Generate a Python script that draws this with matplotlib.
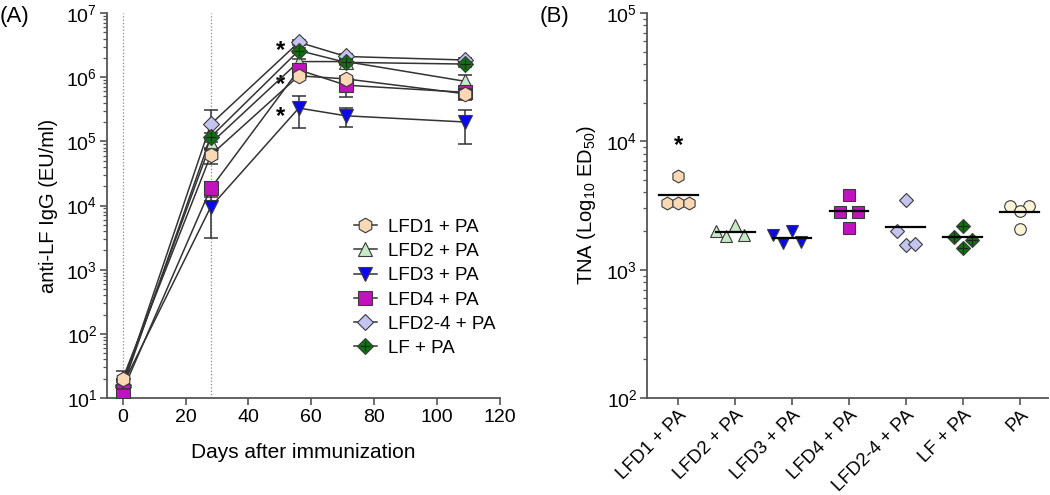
import numpy as np
import matplotlib
matplotlib.use("Agg")
import matplotlib.pyplot as plt
from matplotlib.ticker import LogLocator, NullFormatter, FixedLocator
from matplotlib.legend_handler import HandlerTuple

plt.rcParams['font.family'] = ['Liberation Sans', 'DejaVu Sans']
plt.rcParams['mathtext.fontset'] = 'custom'
plt.rcParams['mathtext.rm'] = 'Liberation Sans'
plt.rcParams['mathtext.it'] = 'Liberation Sans:italic'
plt.rcParams['mathtext.bf'] = 'Liberation Sans:bold'

# ---------------- data: panel A ----------------
days = [0, 28, 56, 71, 109]
groups = ["LFD1 + PA", "LFD2 + PA", "LFD3 + PA", "LFD4 + PA", "LFD2-4 + PA", "LF + PA"]
lfd1 = [20, 6.1e4, 1.05e6, 9.4e5, 5.5e5]
lfd1_err = [6, 1.6e4, 1.0e5, 1.0e5, 1.1e5]
lfd2 = [17, 9.3e4, 1.75e6, 1.75e6, 8.6e5]
lfd2_err = [3, 1.5e4, 1.5e5, 1.5e5, 2.3e5]
lfd3 = [16, 9.5e3, 3.3e5, 2.5e5, 2.0e5]
lfd3_err = [3, 6.4e3, 1.7e5, 8.5e4, 1.1e5]
lfd4 = [13, 1.85e4, 1.3e6, 7.5e5, 5.8e5]
lfd4_err = [3, 5.0e3, 1.5e5, 2.6e5, 8.0e4]
lfd24 = [16, 1.85e5, 3.5e6, 2.1e6, 1.85e6]
lfd24_err = [3, 1.2e5, 3.0e5, 2.0e5, 1.5e5]
lf = [15, 1.17e5, 2.6e6, 1.7e6, 1.6e6]
lf_err = [3, 2.0e4, 2.5e5, 1.5e5, 1.5e5]

# ---------------- data: panel B ----------------
categories = ["LFD1 + PA", "LFD2 + PA", "LFD3 + PA", "LFD4 + PA", "LFD2-4 + PA", "LF + PA", "PA"]
tna_lfd1 = [5370, 3300, 3300, 3300]
tna_lfd2 = [2000, 1830, 2230, 1860]
tna_lfd3 = [1860, 1610, 2000, 1640]
tna_lfd4 = [3810, 2810, 2810, 2110]
tna_lfd24 = [3480, 2000, 1560, 1580]
tna_lf = [2190, 1790, 1700, 1470]
tna_pa = [3130, 3130, 2860, 2070]

# ---------------- styles ----------------
styles = [
    dict(marker='h', color='#f9d8b4', ms=10.5),
    dict(marker='^', color='#c6eac4', ms=10.5),
    dict(marker='v', color='#0a0ae6', ms=10.5),
    dict(marker='s', color='#c212c0', ms=9.5),
    dict(marker='D', color='#c4c4f0', ms=8.5),
    dict(marker='D', color='#127012', ms=8.5),
]
pa_style = dict(marker='o', color='#fcf4d6', ms=9.5)
edge = '#3a3a3a'
axcol = '#555555'

fig = plt.figure(figsize=(10.5, 4.95), dpi=100)
axA = fig.add_axes([107/1050, 1-398/495, 393/1050, 385/495])
axB = fig.add_axes([647/1050, 1-398/495, 401/1050, 385/495])

seriesA = [(lfd1, lfd1_err), (lfd2, lfd2_err), (lfd3, lfd3_err),
           (lfd4, lfd4_err), (lfd24, lfd24_err), (lf, lf_err)]
zorders = [9, 5, 6, 8, 4, 7]

axA.axvline(0, color='#888888', ls=':', lw=0.9, zorder=1)
axA.axvline(28, color='#888888', ls=':', lw=0.9, zorder=1)

handles = []
for (vals, err), st, name, z in zip(seriesA, styles, groups, zorders):
    axA.errorbar(days, vals, yerr=err, color='#333333', lw=1.1, capsize=5,
                 elinewidth=1.1, capthick=1.1, zorder=z, fmt='none')
    axA.plot(days, vals, color='#333333', lw=1.1, zorder=z)
    axA.plot(days, vals, ls='none', marker=st['marker'], ms=st['ms'],
             mfc=st['color'], mec=edge, mew=0.8, zorder=z + 0.5)
    if name == "LF + PA":
        axA.plot(days, vals, ls='none', marker='+', ms=st['ms'] * 0.9,
                 mec='#222222', mew=0.8, zorder=z + 0.6)
    lh, = axA.plot([], [], color='#333333', lw=1.1, marker=st['marker'], ms=st['ms'],
                   mfc=st['color'], mec=edge, mew=0.8, label=name)
    handles.append(lh)

lf_cross, = axA.plot([], [], ls='none', marker='+', ms=styles[5]['ms'] * 0.9,
                     mec='#222222', mew=0.8)
leg_handles = handles[:5] + [(handles[5], lf_cross)]
axA.legend(leg_handles, groups, loc='upper left', bbox_to_anchor=(0.6, 0.495),
           frameon=False, fontsize=13.5, handlelength=1.2, labelspacing=0.38,
           handletextpad=0.6, borderaxespad=0.2,
           handler_map={tuple: HandlerTuple(ndivide=1)})

# asterisks in panel A
for vals in (lfd24, lfd1, lfd3):
    axA.annotate('*', xy=(days[2], vals[2]), xytext=(-13, -6), textcoords='offset points',
                 ha='center', va='center', fontsize=17, fontweight='bold')

axA.set_yscale('log')
axA.set_ylim(10, 1e7)
axA.set_xlim(-5, 120)
axA.set_xticks([0, 20, 40, 60, 80, 100, 120])
axA.yaxis.set_major_locator(FixedLocator([10**k for k in range(1, 8)]))
axA.set_yticklabels([r'$10^{%d}$' % k for k in range(1, 8)])
axA.yaxis.set_minor_locator(LogLocator(base=10, subs=np.arange(2, 10)))
axA.yaxis.set_minor_formatter(NullFormatter())
axA.set_xlabel('Days after immunization', fontsize=15, labelpad=12)
axA.set_ylabel('anti-LF IgG (EU/ml)', fontsize=14.5, labelpad=6)

# ---------------- panel B ----------------
offsets = {
    0: [0.0, -0.19, 0.0, 0.19],
    1: [-0.33, -0.16, 0.0, 0.16],
    2: [-0.33, -0.16, 0.0, 0.16],
    3: [0.0, -0.16, 0.16, 0.0],
    4: [0.0, -0.16, 0.0, 0.16],
    5: [0.0, -0.16, 0.16, 0.0],
    6: [-0.16, 0.16, 0.0, 0.0],
}
tna_sets = [tna_lfd1, tna_lfd2, tna_lfd3, tna_lfd4, tna_lfd24, tna_lf, tna_pa]
b_styles = styles + [pa_style]
for i, (vals, st) in enumerate(zip(tna_sets, b_styles)):
    xs = [i + o for o in offsets[i]]
    ms = st['ms'] * 0.88
    axB.plot(xs, vals, ls='none', marker=st['marker'], ms=ms,
             mfc=st['color'], mec=edge, mew=0.8, zorder=3)
    if i == 5:
        axB.plot(xs, vals, ls='none', marker='+', ms=ms * 0.9,
                 mec='#222222', mew=0.8, zorder=3.5)
    m = np.mean(vals)
    axB.plot([i - 0.34, i + 0.34], [m, m], color='black', lw=1.6, zorder=4)

axB.annotate('*', xy=(0, max(tna_lfd1)), xytext=(0, 22), textcoords='offset points',
             ha='center', va='center', fontsize=17, fontweight='bold')

axB.set_yscale('log')
axB.set_ylim(100, 1e5)
axB.set_xlim(-0.55, 6.5)
axB.set_xticks(range(len(categories)))
axB.set_xticklabels(categories, rotation=45, ha='right', rotation_mode='anchor')
axB.yaxis.set_major_locator(FixedLocator([10**k for k in range(2, 6)]))
axB.set_yticklabels([r'$10^{%d}$' % k for k in range(2, 6)])
axB.yaxis.set_minor_locator(LogLocator(base=10, subs=np.arange(2, 10)))
axB.yaxis.set_minor_formatter(NullFormatter())
axB.set_ylabel(r'TNA (Log$_{10}$ ED$_{50}$)', fontsize=14.5, labelpad=6)

for ax in (axA, axB):
    for s in ('top', 'right'):
        ax.spines[s].set_visible(False)
    for s in ('left', 'bottom'):
        ax.spines[s].set_color(axcol)
        ax.spines[s].set_linewidth(1.3)
    ax.tick_params(axis='both', which='major', length=5, width=1.2, color=axcol,
                   labelsize=14, direction='out', pad=2)
    ax.tick_params(axis='y', which='minor', length=3, width=0.9, color=axcol)

axA.tick_params(axis='x', which='major', pad=3)
axB.tick_params(axis='x', which='major', labelsize=13.5, pad=1)

fig.text(0.0, 0.966, '(A)', fontsize=16, ha='left', va='center')
fig.text(540/1050, 0.966, '(B)', fontsize=16, ha='left', va='center')

fig.savefig('out.png', dpi=100)
